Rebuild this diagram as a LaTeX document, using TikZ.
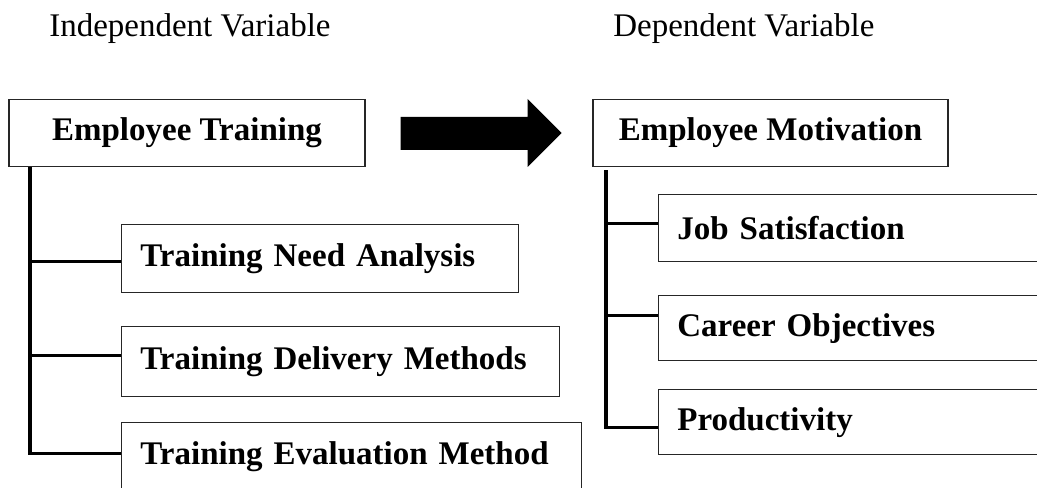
\documentclass[tikz,border=0pt]{standalone}
\usepackage{fontspec}
\setmainfont{Liberation Serif}
\usepackage{tikz}
\usetikzlibrary{positioning,calc}
\tikzset{varbox/.style={draw=black!85, line width=1.1pt, inner sep=0pt, minimum height=50pt,
    font=\fontsize{24.75}{28}\selectfont\bfseries}}
\tikzset{subbox/.style={varbox, anchor=north west, inner xsep=14pt, align=left}}
\tikzset{link/.style={line width=2.3pt}}
\tikzset{headline/.style={anchor=base west, inner sep=0pt, font=\fontsize{24.75}{28}\selectfont}}

\begin{document}
\begin{tikzpicture}[x=0.75pt,y=-0.75pt]
\useasboundingbox (0,0) rectangle (1037,488);

\node[headline] (indep) at (49,37) {Independent Variable};
\node[headline] (dep) at (613,37) {Dependent Variable};

\node[varbox,minimum width=267pt] (train) at (187,133) {Employee Training};
\node[varbox,minimum width=266.25pt] (motiv) at (770.5,133) {Employee Motivation};

% block arrow between the two variables
\fill ($(train.east)+(35,-16)$) -- ($(train.east)+(162,-16)$) -- ($(train.east)+(162,-34)$)
   -- ($(train.east)+(196,0)$) -- ($(train.east)+(162,34)$) -- ($(train.east)+(162,17)$)
   -- ($(train.east)+(35,17)$) -- cycle;

% independent side
\node[subbox,text width=269.75pt,minimum height=51pt] (tna) at (121,224) {Training Need Analysis};
\node[subbox,text width=300.5pt,minimum height=52.5pt] (tdm) at (121,326) {Training Delivery Methods};
\node[subbox,text width=317pt,minimum height=51pt] (tem) at (121,422) {Training Evaluation Method};

% dependent side
\node[subbox,text width=262.25pt,minimum height=50.25pt] (job) at (658,194) {Job Satisfaction};
\node[subbox,text width=262.25pt,minimum height=48.75pt] (career) at (658,295) {Career Objectives};
\node[subbox,text width=262.25pt,minimum height=48.75pt] (prod) at (658,389) {Productivity};

\coordinate (ltrunk) at (train.south -| 30,0);
\coordinate (rtrunk) at ($(motiv.south -| 606,0)+(0,3)$);

\foreach \b/\s in {tna/-2.25pt,tdm/4.5pt,tem/2.25pt,job/3.4pt,career/9.4pt,prod/-4.1pt}
  {
    \coordinate (\b-in) at ([yshift=\s]\b.west);
  }

\foreach \b in {tna,tdm}
  {
    \draw[link] (\b-in) -- (\b-in -| ltrunk);
  }
\draw[link] (ltrunk) |- (tem-in);

\foreach \b in {job,career}
  {
    \draw[link] (\b-in) -- (\b-in -| rtrunk);
  }
\draw[link] (rtrunk) |- (prod-in);

\end{tikzpicture}
\end{document}
